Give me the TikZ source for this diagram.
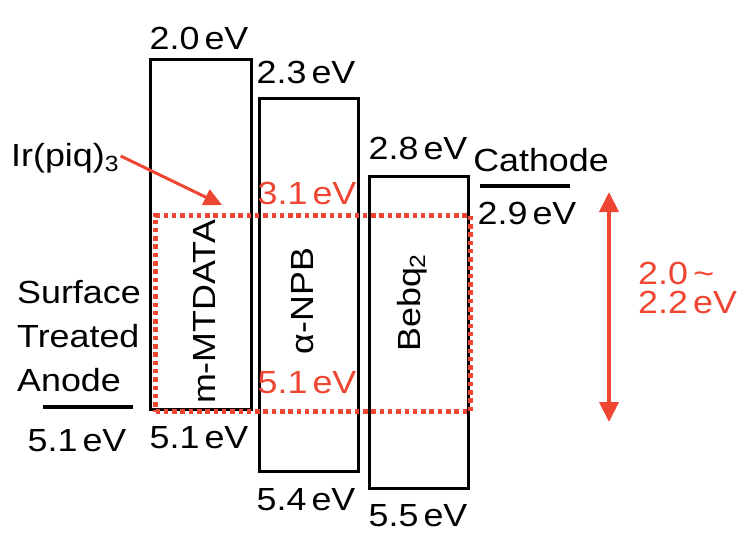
\documentclass[tikz,border=0pt]{standalone}
\usepackage{fontspec}
\setmainfont[FakeStretch=1.12]{Liberation Sans}
\usetikzlibrary{arrows.meta}
\definecolor{hred}{RGB}{238,70,50}
\tikzset{
  lbl/.style={inner sep=0pt, font=\fontsize{32}{38}\selectfont},
  rlbl/.style={lbl, text=hred},
  layer/.style={draw=black, line width=2.8pt, inner sep=0pt, anchor=north west},
  lvl/.style={line width=4.5pt},
  dotbox/.style={draw=hred, line width=5pt, dash pattern=on 4.5pt off 3.8pt, inner sep=0pt, anchor=north west},
  redarrow/.style={draw=hred, line width=4pt},
}
\newcommand{\sbs}[1]{\raisebox{-0.15em}{\fontsize{22}{22}\selectfont #1}}
\newcommand{\ev}{\hspace{0.16em}eV}
\begin{document}
\begin{tikzpicture}[x=1pt,y=-1pt]
\useasboundingbox (0,0) rectangle (738,535);
% layers
\node[layer, minimum width=101pt, minimum height=350pt] (mt) at (149,58) {};
\node[layer, minimum width=99pt, minimum height=373pt] (npb) at (258,97) {};
\node[layer, minimum width=99pt, minimum height=312pt] (beb) at (368,175) {};
% dotted emitter box
\node[dotbox, minimum width=315pt, minimum height=196pt] (ir) at (153,213) {};
% layer names
\node[lbl, rotate=90] (mtn) at (204,312) {m-MTDATA};
\node[lbl, rotate=90] (npbn) at (303,301) {α-NPB};
\node[lbl, rotate=90] (bebn) at (412,303) {Bebq\sbs{2}};
% energies
\node[lbl] (e20) at (199,38) {2.0\ev};
\node[lbl] (e23) at (306,72) {2.3\ev};
\node[lbl] (e28) at (418,148) {2.8\ev};
\node[lbl] (e51m) at (199,438) {5.1\ev};
\node[lbl] (e54) at (306,500) {5.4\ev};
\node[lbl] (e55) at (418,516) {5.5\ev};
\node[rlbl] (e31) at (307,193) {3.1\ev};
\node[rlbl] (e51r) at (307,383) {5.1\ev};
% anode
\node[lbl, align=left, anchor=north west, font=\fontsize{32}{44}\selectfont] (an) at (17,280) {Surface\\Treated\\Anode};
\coordinate (a1) at (43,407);
\coordinate (a2) at (133,407);
\draw[lvl] (a1) -- (a2);
\node[lbl] (e51a) at (77,441) {5.1\ev};
% cathode
\node[lbl] (cat) at (541,160) {Cathode};
\coordinate (c1) at (480,186);
\coordinate (c2) at (570,186);
\draw[lvl] (c1) -- (c2);
\node[lbl] (e29) at (527,213) {2.9\ev};
% Ir(piq)3
\node[lbl, anchor=west] (irl) at (11,158) {Ir(piq)\sbs{3}};
\coordinate (irt) at (222,205);
\draw[redarrow, line width=3pt, -{Triangle[width=17pt,length=18pt]}] (irl.east) ++(2,-2) -- (irt);
% gap arrow
\coordinate (g1) at (609,192);
\coordinate (g2) at (609,422);
\draw[redarrow, {Triangle[width=19pt,length=20pt]}-{Triangle[width=19pt,length=20pt]}] (g1) -- (g2);
\node[rlbl, align=left, anchor=north west, font=\fontsize{32}{29}\selectfont] (gap) at (638,262) {2.0\,\textasciitilde\\2.2\ev};
\end{tikzpicture}
\end{document}
